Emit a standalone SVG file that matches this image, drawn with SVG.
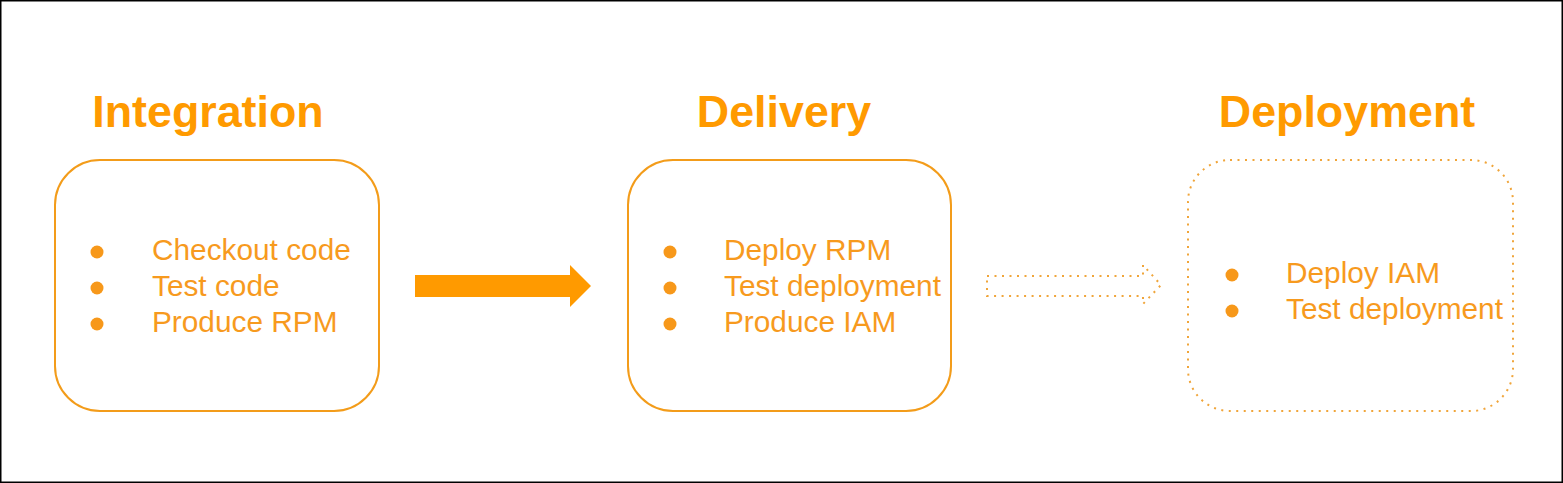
<svg xmlns="http://www.w3.org/2000/svg" width="1563" height="483" viewBox="0 0 1563 483">
<style>
.title{font-family:"Liberation Sans",Arial,sans-serif;font-weight:bold;font-size:44.8px;fill:#FF9A00;text-anchor:middle}
.item{font-family:"Liberation Sans",Arial,sans-serif;font-size:29.8px;fill:#F79A1E}
.box{fill:none;stroke:#F39C1A;stroke-width:2}
.dotbox{fill:none;stroke:#F0A53A;stroke-width:2;stroke-dasharray:2 5.5}
.bullet{fill:#F7981A}
</style>
<rect x="0.75" y="0.75" width="1561.5" height="481.5" fill="#fff" stroke="#000" stroke-width="1.5"/>
<g id="integration">
<text class="title" x="208" y="127">Integration</text>
<rect class="box" x="55" y="160" width="324" height="251" rx="45"/>
<circle class="bullet" cx="97" cy="252" r="6.5"/>
<circle class="bullet" cx="97" cy="288" r="6.5"/>
<circle class="bullet" cx="97" cy="324" r="6.5"/>
<text class="item" x="152" y="260">Checkout code</text>
<text class="item" x="152" y="296">Test code</text>
<text class="item" x="152" y="332">Produce RPM</text>
</g>
<g id="delivery">
<text class="title" x="784" y="127">Delivery</text>
<rect class="box" x="628" y="160" width="323" height="251" rx="45"/>
<circle class="bullet" cx="670" cy="252" r="6.5"/>
<circle class="bullet" cx="670" cy="288" r="6.5"/>
<circle class="bullet" cx="670" cy="324" r="6.5"/>
<text class="item" x="724" y="260">Deploy RPM</text>
<text class="item" x="724" y="296">Test deployment</text>
<text class="item" x="724" y="332">Produce IAM</text>
</g>
<g id="deployment">
<text class="title" x="1347" y="127">Deployment</text>
<rect class="dotbox" x="1188" y="160" width="325" height="251" rx="42"/>
<circle class="bullet" cx="1232" cy="275" r="6.5"/>
<circle class="bullet" cx="1232" cy="311" r="6.5"/>
<text class="item" x="1286" y="283">Deploy IAM</text>
<text class="item" x="1286" y="319">Test deployment</text>
</g>
<g id="connectors">
<polygon points="415,275 570,275 570,265 591,286 570,307 570,297 415,297" fill="#FF9A00"/>
<polygon points="987,276 1143,276 1143,265 1161,285 1143,304 1143,296 987,296" fill="none" stroke="#F0A53A" stroke-width="2" stroke-dasharray="2 5.5"/>
</g>
</svg>
